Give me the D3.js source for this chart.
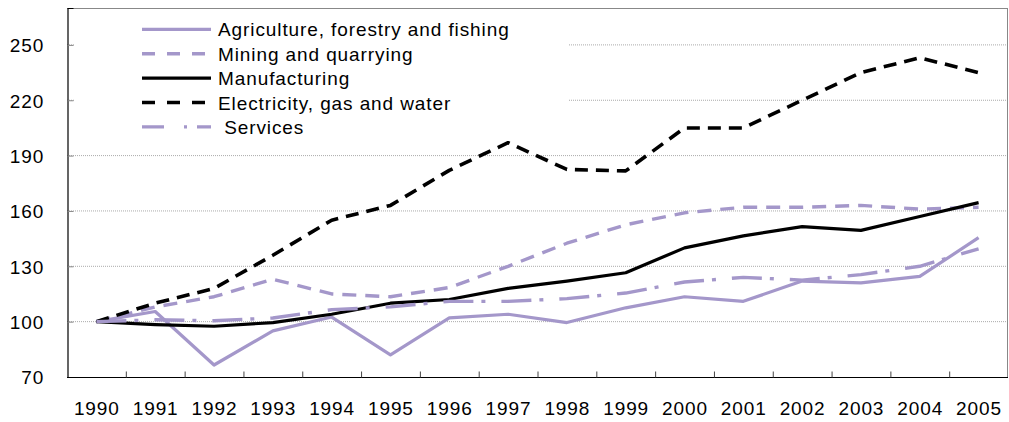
<!DOCTYPE html>
<html><head><meta charset="utf-8">
<script src="https://cdn.jsdelivr.net/npm/d3@7"></script>
<style>body{margin:0;background:#fff}svg{display:block}text{font-family:"Liberation Sans",Arial,sans-serif}</style>
</head><body><svg id="c" width="1009" height="422"></svg>
<script>
const years = ["1990","1991","1992","1993","1994","1995","1996","1997","1998","1999","2000","2001","2002","2003","2004","2005"];
const yTicks = [70,100,130,160,190,220,250];
const agriculture = [100,105.5,76.5,95,102.5,82,102,104,99.5,107.5,113.5,111,122,121,124.5,145.5];
const mining = [100,108,113.5,123,115,113.5,118.5,130,142.5,152.5,159,162,162,163,161,162];
const manufacturing = [100,98.4,97.5,99.5,104,110,112,118,122,126.5,140,146.5,151.5,149.5,157,164.5];
const electricity = [100,110,118,136,155,163,182,197,182.5,181.7,205,205,220,235,243,235];
const services = [100,101,100.5,102,106.5,108,111,111,112.5,115.5,121.5,124,122.5,125.5,130,139.5];
const seriesNames = ["Agriculture, forestry and fishing","Mining and quarrying","Manufacturing","Electricity, gas and water"," Services"];

const purple = "#a497ca";
const series = [
  {name: seriesNames[0], values: agriculture, color: purple, dash: null, w: 3.2},
  {name: seriesNames[1], values: mining, color: purple, dash: "14,9", w: 3.4},
  {name: seriesNames[2], values: manufacturing, color: "#000", dash: null, w: 3.2},
  {name: seriesNames[3], values: electricity, color: "#000", dash: "13,8", w: 3.6},
  {name: seriesNames[4], values: services, color: purple, dash: "30,8,4,16", w: 3.4}
];

const svg = d3.select("#c");
const L = 67, R = 1008, T = 8, B = 377;
const FS = 19, LS = 0.9;
const x = d3.scaleBand().domain(years).range([L, R]);
const y = d3.scaleLinear().domain([70, 270]).range([B, T]);

// gridlines
svg.append("g").selectAll("line").data(yTicks.filter(d => d > 70)).join("line")
  .attr("x1", L).attr("x2", R).attr("y1", d => y(d)).attr("y2", d => y(d))
  .attr("stroke", "#aaa").attr("stroke-width", 1).attr("stroke-dasharray", "1,1");

// legend background
svg.append("rect").attr("x", 74).attr("y", T + 2).attr("width", 495).attr("height", 130).attr("fill", "#fff");

// frame
svg.append("line").attr("x1", L).attr("x2", R).attr("y1", T + 0.5).attr("y2", T + 0.5).attr("stroke", "#888");
svg.append("line").attr("x1", R - 0.5).attr("x2", R - 0.5).attr("y1", T).attr("y2", B).attr("stroke", "#888");

// y axis
const yAxis = d3.axisLeft(y).tickValues(yTicks).tickSize(-6);
const gy = svg.append("g").attr("transform", `translate(${L + 0.5},0)`).call(yAxis);
gy.select(".domain").attr("stroke", "#000").attr("stroke-width", 1.2);
gy.selectAll(".tick line").attr("stroke", "#888");
gy.selectAll(".tick text").attr("font-size", FS).attr("fill", "#000").attr("dy", "0.36em")
  .attr("x", -23.3).attr("letter-spacing", LS).attr("font-family", '"Liberation Sans",Arial,sans-serif');

// x axis
const gx = svg.append("g").attr("transform", `translate(0,${B + 0.5})`);
gx.append("line").attr("x1", L).attr("x2", R).attr("stroke", "#000").attr("stroke-width", 1.2);
gx.selectAll("line.tk").data(years.slice(1)).join("line").attr("class", "tk")
  .attr("x1", d => x(d) + 0.5).attr("x2", d => x(d) + 0.5).attr("y1", 0).attr("y2", -6)
  .attr("stroke", "#444");
gx.selectAll("text").data(years).join("text")
  .attr("x", d => x(d) + x.bandwidth() / 2 + LS / 2).attr("y", 37.5)
  .attr("text-anchor", "middle").attr("font-size", FS).attr("letter-spacing", LS).attr("fill", "#000").text(d => d);

// lines
const line = d3.line().x((d, i) => x(years[i]) + x.bandwidth() / 2).y(d => y(d));
svg.append("g").selectAll("path").data(series).join("path")
  .attr("d", d => line(d.values)).attr("fill", "none")
  .attr("stroke", d => d.color).attr("stroke-width", d => d.w)
  .attr("stroke-dasharray", d => d.dash).attr("stroke-linejoin", "round");

// legend
const lg = svg.append("g");
const rowY = i => 29.3 + i * 24.4;
lg.selectAll("line").data(series).join("line")
  .attr("x1", 142).attr("x2", 211).attr("y1", (d, i) => rowY(i)).attr("y2", (d, i) => rowY(i))
  .attr("stroke", d => d.color).attr("stroke-width", d => d.w)
  .attr("stroke-dasharray", (d, i) => i === 4 ? "22,20,3,10" : (d.dash ? "13,12" : null));
lg.selectAll("text").data(series).join("text")
  .attr("x", 218).attr("y", (d, i) => rowY(i) + 7)
  .attr("font-size", FS).attr("letter-spacing", LS).attr("fill", "#000").style("white-space", "pre").text(d => d.name);
</script></body></html>
